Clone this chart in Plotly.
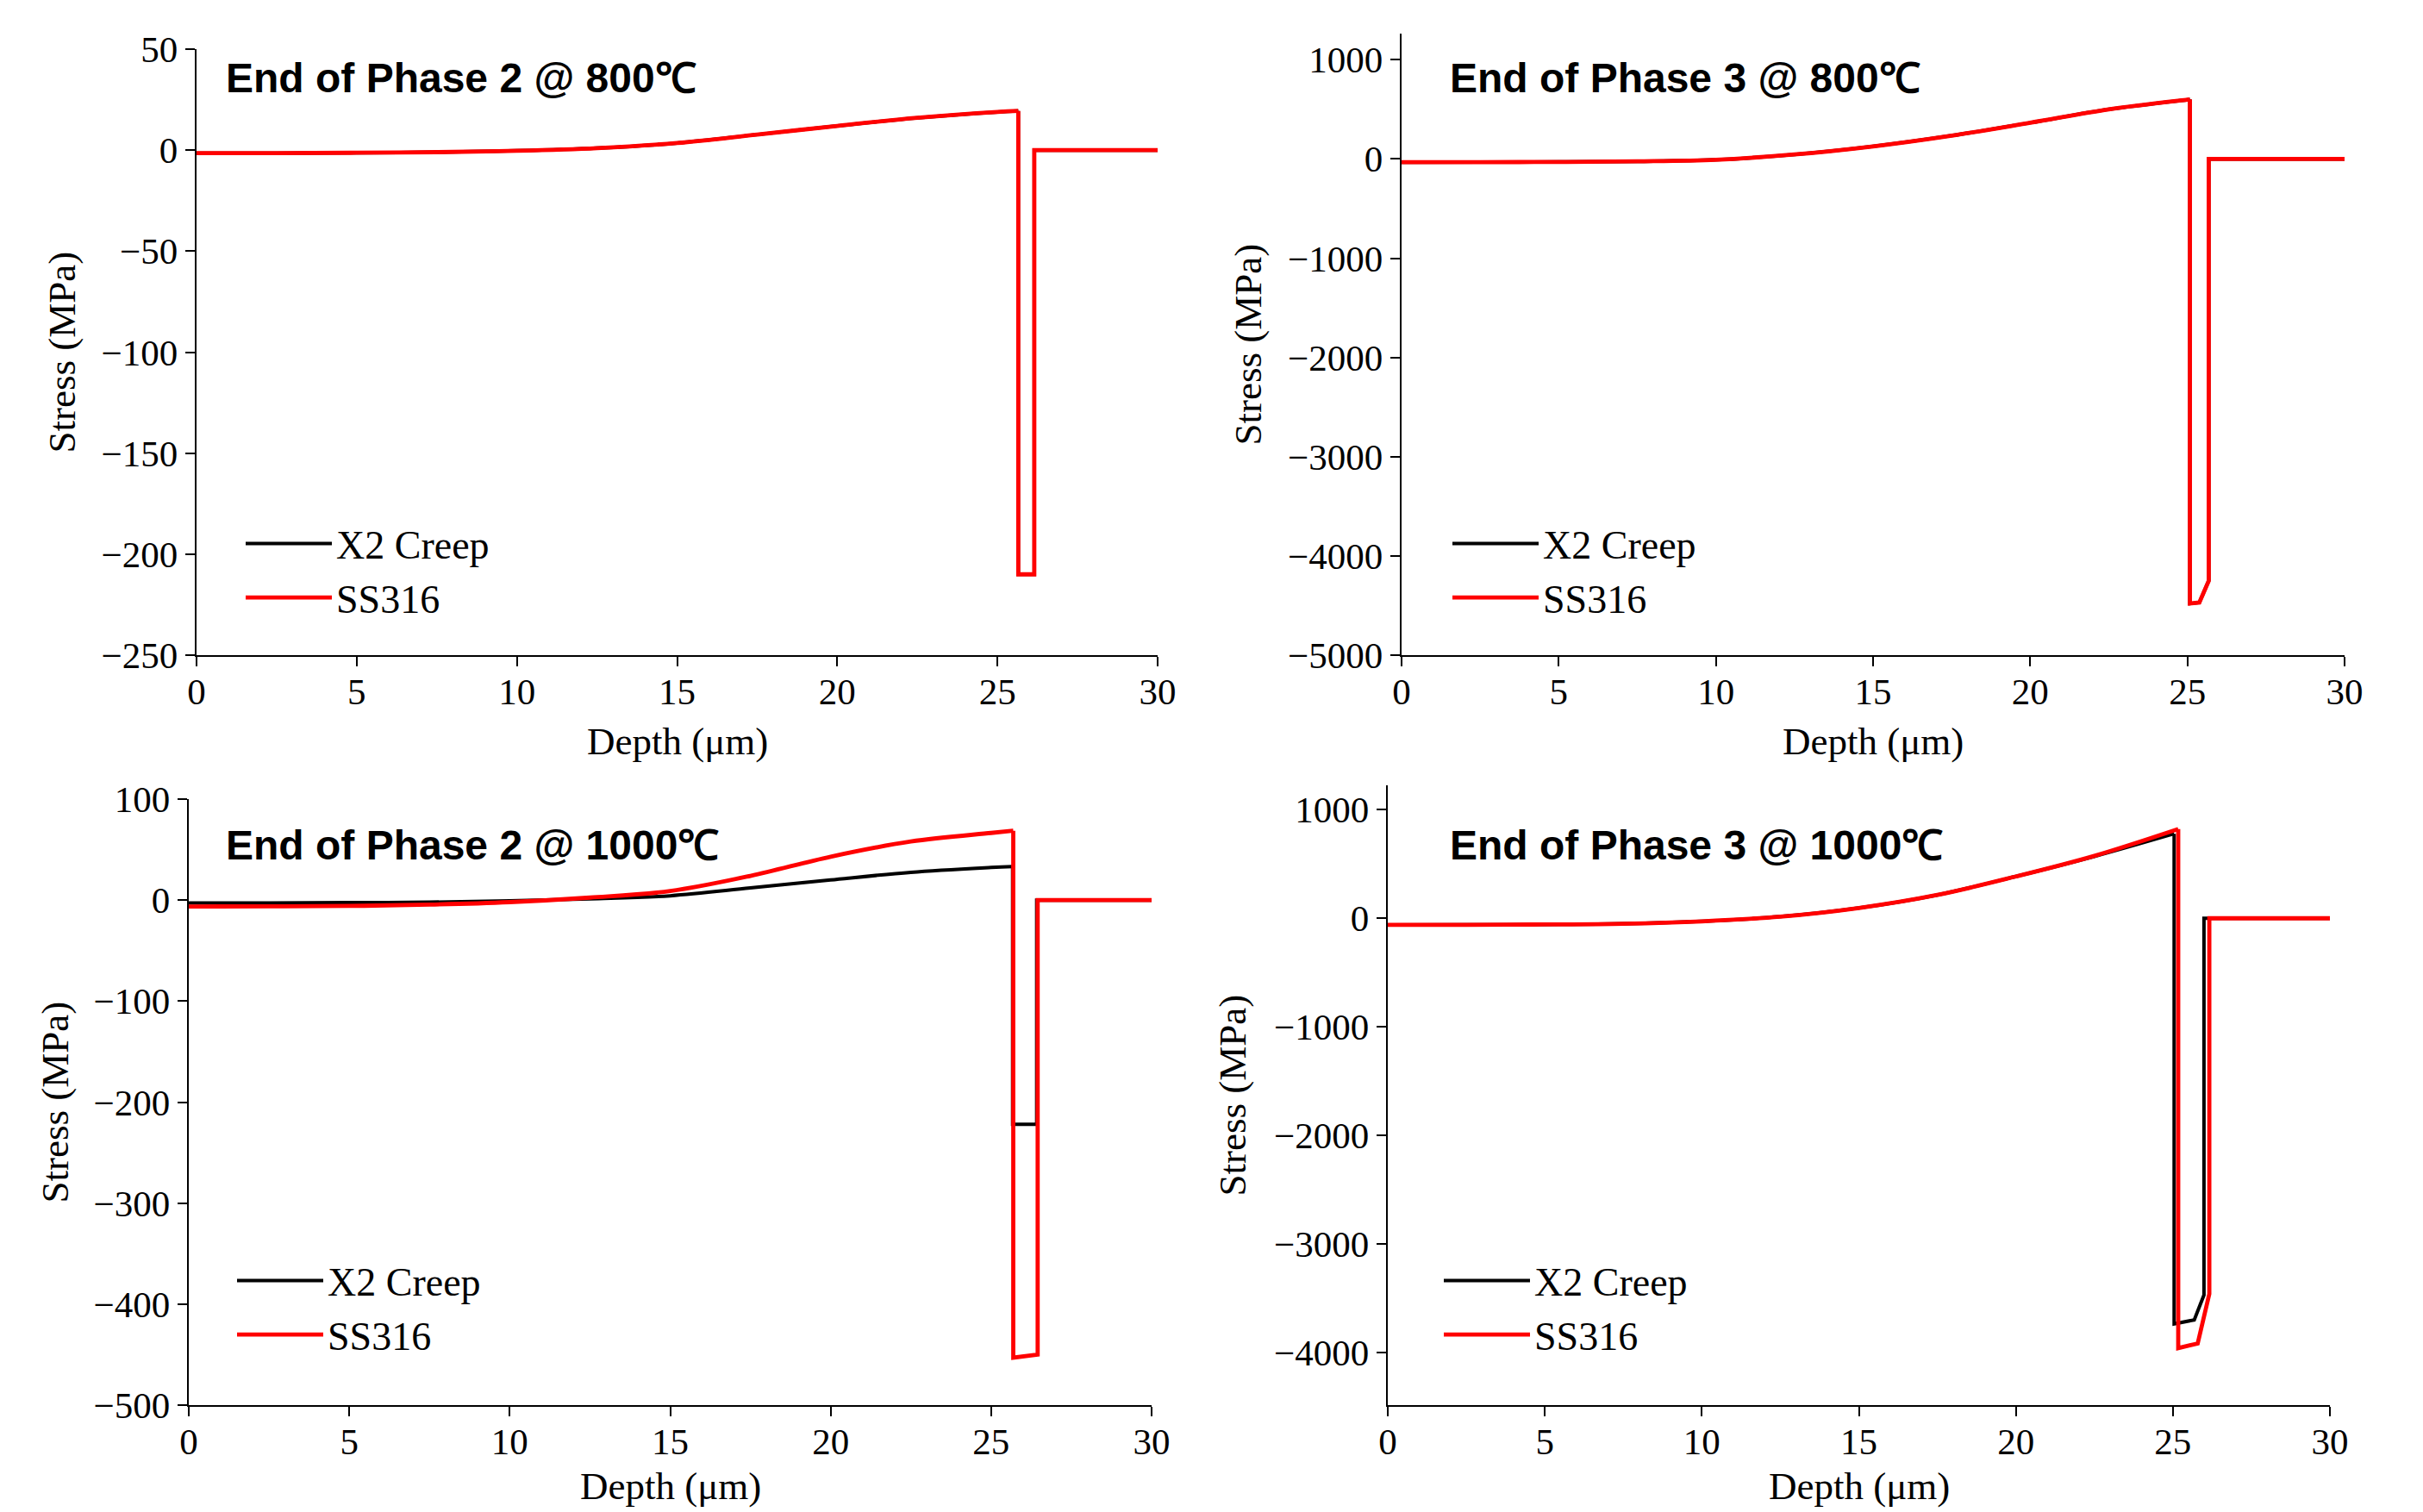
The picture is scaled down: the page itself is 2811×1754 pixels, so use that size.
import plotly.graph_objects as go

W, H = 2811, 1754

# ---------------- data ----------------
# Panel A: End of Phase 2 @ 800C
a_depth_x2 = [0, 2.5, 5, 7.5, 10, 12.5, 15, 17.5, 20, 22.5, 25, 25.65, 25.65, 26.15, 26.15, 30]
a_x2 = [-1.5, -1.5, -1.3, -1.0, -0.3, 1.0, 3.5, 7.7, 12.0, 16.0, 18.9, 19.4, -210, -210, 0, 0]
a_depth_ss = [0, 2.5, 5, 7.5, 10, 12.5, 15, 17.5, 20, 22.5, 25, 25.65, 25.65, 26.15, 26.15, 30]
a_ss = [-1.5, -1.5, -1.3, -1.0, -0.3, 1.0, 3.5, 7.7, 12.0, 16.0, 18.9, 19.4, -210, -210, 0, 0]

# Panel B: End of Phase 3 @ 800C
b_depth_x2 = [0, 2.5, 5, 7.5, 10, 12.5, 15, 17.5, 20, 22.5, 25, 25.08, 25.08, 25.38, 25.68, 25.68, 30]
b_x2 = [-33, -32, -30, -24, -8, 45, 127, 235, 365, 500, 597, 600, -4480, -4470, -4250, 0, 0]
b_depth_ss = [0, 2.5, 5, 7.5, 10, 12.5, 15, 17.5, 20, 22.5, 25, 25.08, 25.08, 25.38, 25.68, 25.68, 30]
b_ss = [-33, -32, -30, -24, -8, 45, 127, 235, 365, 500, 597, 600, -4480, -4470, -4250, 0, 0]

# Panel C: End of Phase 2 @ 1000C
c_depth_x2 = [0, 2.5, 5, 7.5, 10, 12.5, 15, 17.5, 20, 22.5, 25, 25.67, 25.67, 26.42, 26.42, 30]
c_x2 = [-2.9, -2.8, -2.5, -2.0, -0.8, 1.3, 4.3, 12.0, 20.0, 27.5, 32.3, 33.3, -222, -222, 0, 0]
c_depth_ss = [0, 2.5, 5, 7.5, 10, 12.5, 15, 17.5, 20, 22.5, 25, 25.69, 25.69, 26.45, 26.45, 30]
c_ss = [-6.3, -6.2, -5.8, -4.5, -2.0, 2.5, 9.0, 24.0, 43.0, 58.0, 66.5, 68.7, -453, -450, 0, 0]

# Panel D: End of Phase 3 @ 1000C
d_depth_x2 = [0, 2.5, 5, 7.5, 10, 12.5, 15, 17.5, 20, 22.5, 25.04, 25.04, 25.68, 25.99, 25.99, 30]
d_x2 = [-61, -60, -57, -50, -28, 15, 95, 215, 385, 570, 779, -3737, -3700, -3471, 0, 0]
d_depth_ss = [0, 2.5, 5, 7.5, 10, 12.5, 15, 17.5, 20, 22.5, 25.17, 25.17, 25.79, 26.16, 26.16, 30]
d_ss = [-61, -60, -57, -50, -28, 15, 95, 215, 385, 575, 822, -3960, -3917, -3460, 0, 0]

titles = ["End of Phase 2 @ 800\u2103", "End of Phase 3 @ 800\u2103",
          "End of Phase 2 @ 1000\u2103", "End of Phase 3 @ 1000\u2103"]
series_names = ["X2 Creep", "SS316"]
x_ticks = [0, 5, 10, 15, 20, 25, 30]
y_ticks = [[-250, -200, -150, -100, -50, 0, 50],
           [-5000, -4000, -3000, -2000, -1000, 0, 1000],
           [-500, -400, -300, -200, -100, 0, 100],
           [-4000, -3000, -2000, -1000, 0, 1000]]
y_ranges = [[-250, 50], [-5000, 1263], [-500, 100], [-4485, 1225]]
x_label = "Depth (\u03bcm)"
y_label = "Stress (MPa)"

# ---------------- layout geometry (pixels, in the photographed window) ----------------
OFF = 8  # page body margin of the written html
boxes = [(228, 1343, 57, 760), (1626, 2720, 39, 760),
         (219, 1336, 927, 1630), (1610, 2703, 911, 1630)]
ylab_x = [72, 1448, 63, 1429]
xlab_y = [860, 860, 1724, 1724]
title_pos = [(260, 90), (1680, 90), (260, 981), (1680, 981)]
legend_pos = [(280, 594), (1680, 594), (270, 1449), (1670, 1449)]

BLACK = "#000000"
RED = "#ff0000"
SERIF = "Liberation Serif, Times New Roman, serif"
SANS = "Liberation Sans, Arial, sans-serif"

data = [
    (a_depth_x2, a_x2, a_depth_ss, a_ss),
    (b_depth_x2, b_x2, b_depth_ss, b_ss),
    (c_depth_x2, c_x2, c_depth_ss, c_ss),
    (d_depth_x2, d_x2, d_depth_ss, d_ss),
]

fig = go.Figure()
annotations = []
layout = {}


def fx(px):
    return (px - OFF) / W


def fy(py):
    return 1 - (py - OFF) / H


def split(depth, vals):
    """smooth profile up to the drop, then the straight-edged drop region"""
    k = next(i for i in range(len(depth) - 1) if depth[i + 1] == depth[i])
    return (depth[:k + 1], vals[:k + 1]), (depth[k:], vals[k:])


def add_series(depth, vals, name, color, width, xa, ya, lg, grp):
    (cx, cy), (dx, dy) = split(depth, vals)
    fig.add_trace(go.Scatter(x=cx, y=cy, mode="lines", name=name,
                             line=dict(color=color, width=width, shape="spline", smoothing=1.0),
                             xaxis=xa, yaxis=ya, legend=lg, legendgroup=grp, showlegend=True))
    fig.add_trace(go.Scatter(x=dx, y=dy, mode="lines", name=name,
                             line=dict(color=color, width=width),
                             xaxis=xa, yaxis=ya, legend=lg, legendgroup=grp, showlegend=False))


for i, (dx2, vx2, dss, vss) in enumerate(data):
    n = "" if i == 0 else str(i + 1)
    xa, ya = "x" + n, "y" + n
    lg = "legend" + n
    add_series(dx2, vx2, series_names[0], BLACK, 4, xa, ya, lg, "x2" + n)
    add_series(dss, vss, series_names[1], RED, 4.8, xa, ya, lg, "ss" + n)
    l, r, t, b = boxes[i]
    common = dict(showgrid=False, zeroline=False, showline=True, linecolor=BLACK,
                  linewidth=2.2, ticks="outside", ticklen=11, tickwidth=2.2,
                  tickcolor=BLACK, tickfont=dict(family=SERIF, size=43, color=BLACK),
                  automargin=False)
    layout["xaxis" + n] = dict(domain=[fx(l), fx(r)], anchor=ya, range=[0, 30],
                               tickvals=x_ticks, ticklabelstandoff=-8, **common)
    layout["yaxis" + n] = dict(domain=[fy(b), fy(t)], anchor=xa, range=y_ranges[i],
                               tickvals=y_ticks[i], **common)
    lx, ly = legend_pos[i]
    layout[lg] = dict(x=fx(lx), y=fy(ly), xanchor="left", yanchor="top",
                      bgcolor="rgba(0,0,0,0)", borderwidth=0,
                      font=dict(family=SERIF, size=46, color=BLACK),
                      itemwidth=100, tracegroupgap=0)
    annotations.append(dict(text=x_label, x=fx((l + r) / 2), y=fy(xlab_y[i]),
                            xref="paper", yref="paper", showarrow=False,
                            xanchor="center", yanchor="middle",
                            font=dict(family=SERIF, size=45, color=BLACK)))
    annotations.append(dict(text=y_label, x=fx(ylab_x[i]), y=fy((t + b) / 2),
                            xref="paper", yref="paper", showarrow=False, textangle=-90,
                            xanchor="center", yanchor="middle",
                            font=dict(family=SERIF, size=45, color=BLACK)))
    tx, ty = title_pos[i]
    annotations.append(dict(text="<b>" + titles[i] + "</b>", x=fx(tx), y=fy(ty),
                            xref="paper", yref="paper", showarrow=False,
                            xanchor="left", yanchor="middle",
                            font=dict(family=SANS, size=48, color=BLACK)))

fig.update_layout(**layout)
fig.update_layout(width=W, height=H,
                  margin=dict(l=0, r=0, t=0, b=0, pad=0, autoexpand=False),
                  paper_bgcolor="white", plot_bgcolor="white",
                  annotations=annotations, showlegend=True)

fig.write_html("out.html")
